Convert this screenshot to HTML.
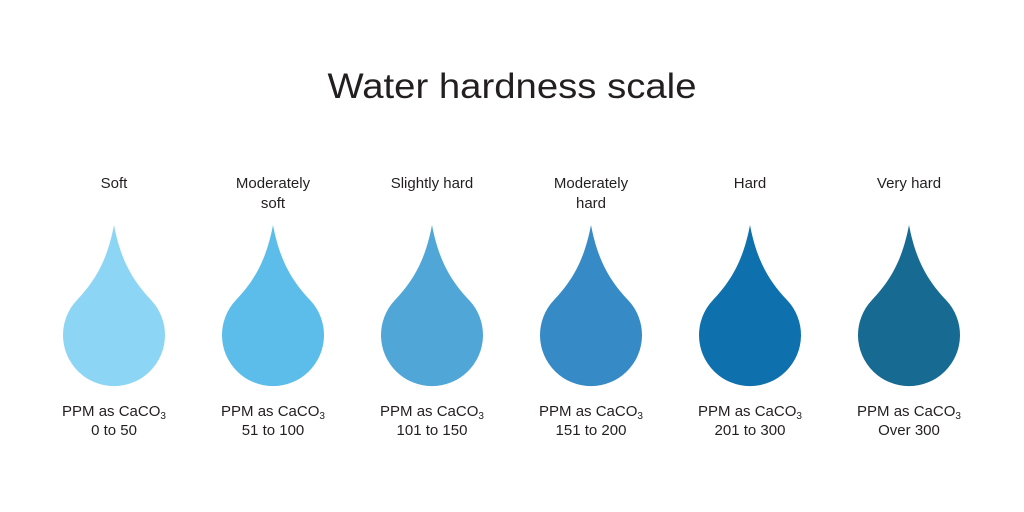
<!DOCTYPE html>
<html><head><meta charset="utf-8"><style>
html,body{margin:0;padding:0;background:#fff;}
svg{display:block;font-family:"Liberation Sans",sans-serif;}
</style></head><body>
<svg id="chart" width="1024" height="512" viewBox="0 0 1024 512">
<text x="512" y="98" text-anchor="middle" font-size="35" fill="#231f20" textLength="369" lengthAdjust="spacingAndGlyphs">Water hardness scale</text>
<g id="drops"></g>
</svg>
<script>
const categories = [["Soft"],["Moderately","soft"],["Slightly hard"],["Moderately","hard"],["Hard"],["Very hard"]];
const ranges = ["0 to 50","51 to 100","101 to 150","151 to 200","201 to 300","Over 300"];
const colors = ["#8dd5f5","#5cbcea","#50a7d7","#368ac6","#0f70ae","#176a92"];
const NS="http://www.w3.org/2000/svg";
const g=document.getElementById('drops');
function xPos(i){return 114+i*159;}
categories.forEach((lab,i)=>{
  const cx=xPos(i);
  const grp=document.createElementNS(NS,'g');
  
  
  lab.forEach((ln,j)=>{
    const t=document.createElementNS(NS,'text');
    t.setAttribute('x',cx);t.setAttribute('y',188+j*20);
    t.setAttribute('text-anchor','middle');t.setAttribute('font-size','15');t.setAttribute('fill','#231f20');
    t.textContent=ln;
    
    
    grp.appendChild(t);
  });
  const p=document.createElementNS(NS,'path');
  p.setAttribute('d',`M${cx} 225 C${cx+7} 262 ${cx+20} 282 ${cx+37} 300 A51 51 0 1 1 ${cx-37} 300 C${cx-20} 282 ${cx-7} 262 ${cx} 225 Z`);
  p.setAttribute('fill',colors[i]);
  
  
  grp.appendChild(p);
  const t1=document.createElementNS(NS,'text');
  t1.setAttribute('x',cx);t1.setAttribute('y',416);
  t1.setAttribute('text-anchor','middle');t1.setAttribute('font-size','15');t1.setAttribute('fill','#231f20');
  t1.innerHTML='PPM as CaCO<tspan font-size="10" dy="3">3</tspan>';
  
  
  grp.appendChild(t1);
  const t2=document.createElementNS(NS,'text');
  t2.setAttribute('x',cx);t2.setAttribute('y',435);
  t2.setAttribute('text-anchor','middle');t2.setAttribute('font-size','15');t2.setAttribute('fill','#231f20');
  t2.textContent=ranges[i];
  
  
  grp.appendChild(t2);
  g.appendChild(grp);
});
</script>
</body></html>
